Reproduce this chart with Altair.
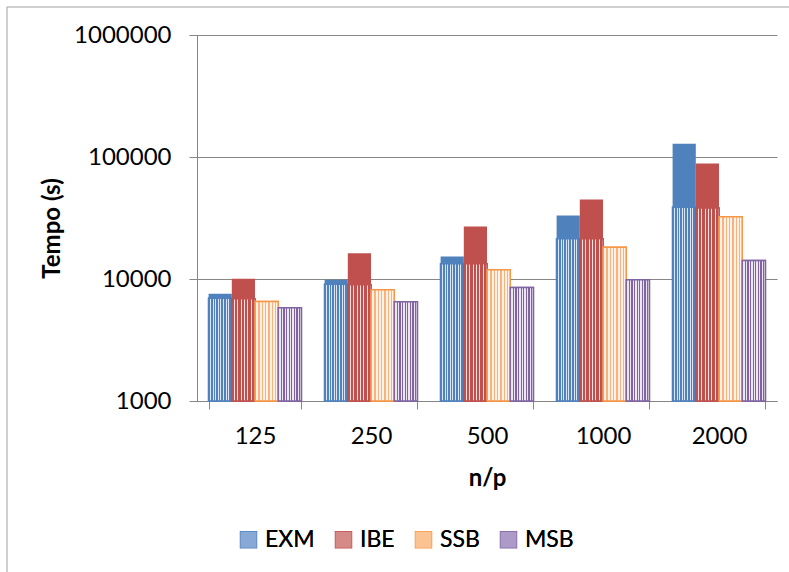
import altair as alt
import pandas as pd

# Problem sizes (n/p) and methods
np_labels = ["125", "250", "500", "1000", "2000"]
methods = ["EXM", "IBE", "SSB", "MSB"]
colors = ["#4F81BD", "#C0504D", "#F79646", "#8064A2"]
swatch_fills = ["#88A9D5", "#D58A88", "#FBC391", "#AD9AC7"]

# Total run time (s) per method
total_exm = [7560, 9850, 15290, 33150, 128200]
total_ibe = [10040, 16260, 26900, 44830, 88500]
total_ssb = [6540, 8160, 11890, 18230, 32440]
total_msb = [5810, 6500, 8510, 9850, 14170]

# Lower (patterned) part of each bar (s)
part_exm = [6960, 9060, 13320, 21360, 38650]
part_ibe = [6890, 8960, 13320, 21360, 38200]
part_ssb = total_ssb
part_msb = total_msb

totals = {"EXM": total_exm, "IBE": total_ibe, "SSB": total_ssb, "MSB": total_msb}
parts = {"EXM": part_exm, "IBE": part_ibe, "SSB": part_ssb, "MSB": part_msb}

rows = []
for m in methods:
    for i, n in enumerate(np_labels):
        rows.append({"np": n, "method": m, "total": totals[m][i],
                     "part": parts[m][i], "floor": 1000})
df = pd.DataFrame(rows)

FONT = "Lato"
GRAY = "#868686"

x_enc = alt.X("np:N", sort=np_labels,
              scale=alt.Scale(paddingInner=0.2, paddingOuter=0.1),
              axis=alt.Axis(title="n/p", labelAngle=0, tickBand="extent",
                            labelFont=FONT, labelFontSize=24, labelColor="#000",
                            labelPadding=15, tickSize=8, tickColor=GRAY,
                            domainColor=GRAY, grid=False,
                            titleFont=FONT, titleFontSize=24, titleFontWeight="bold",
                            titleColor="#000", titleBaseline="middle", titleY=77))
xo_enc = alt.XOffset("method:N", sort=methods,
                     scale=alt.Scale(domain=methods, paddingInner=0, paddingOuter=0))
y_scale = alt.Scale(type="log", domain=[1000, 1000000])
y_axis = alt.Axis(title="Tempo (s)", values=[1000, 10000, 100000, 1000000], format="d",
                  labelFont=FONT, labelFontSize=24, labelColor="#000", labelPadding=18,
                  tickSize=8, tickColor=GRAY, domainColor=GRAY, gridColor=GRAY,
                  titleFont=FONT, titleFontSize=24, titleFontWeight="bold", titleColor="#000",
                  titleAngle=270, titleBaseline="middle", titleAlign="center",
                  titleX=-145, titleY=193)


def stripes(c1, c2, periods, duty):
    stops = []
    for k in range(periods):
        a = k / periods
        b = (k + duty) / periods
        e = (k + 1) / periods
        stops += [alt.GradientStop(color=c1, offset=a), alt.GradientStop(color=c1, offset=b),
                  alt.GradientStop(color=c2, offset=b), alt.GradientStop(color=c2, offset=e)]
    return alt.LinearGradient(gradient="linear", stops=stops, x1=0, x2=1, y1=0, y2=0)


# Fine fill textures for the lower part of each bar
textures = {
    "EXM": stripes("#4F81BD", "#DCE6F3", 9, 0.6),
    "IBE": stripes("#C0504D", "#F6E0DF", 7, 0.65),
    "SSB": stripes("#FAB27D", "#FFF3E9", 7, 0.45),
    "MSB": stripes("#8064A2", "#ECE6F3", 9, 0.5),
}

legend_style = dict(title=None, orient="none", direction="horizontal",
                    legendX=40, legendY=493, symbolType="square",
                    symbolSize=256, symbolStrokeWidth=1.5,
                    labelFont=FONT, labelFontSize=23, labelColor="#000",
                    labelOffset=5, columnPadding=17)

base = alt.Chart(df)

# Full bars (solid colour shows above the patterned part)
solid = base.mark_bar().encode(
    x=x_enc, xOffset=xo_enc,
    y=alt.Y("total:Q", scale=y_scale, axis=y_axis), y2="floor:Q",
    fill=alt.Fill("method:N", sort=methods,
                  scale=alt.Scale(domain=methods, range=colors), legend=None),
)

# Patterned lower part: the base layer carries the legend
lower = base.mark_bar(strokeWidth=1.5).encode(
    x=x_enc, xOffset=xo_enc,
    y=alt.Y("part:Q", scale=y_scale, axis=y_axis), y2="floor:Q",
    fill=alt.Fill("method:N", sort=methods,
                  scale=alt.Scale(domain=methods, range=swatch_fills),
                  legend=alt.Legend(**legend_style)),
    stroke=alt.Stroke("method:N", sort=methods,
                      scale=alt.Scale(domain=methods, range=colors),
                      legend=alt.Legend(**legend_style)),
)

texture_layers = []
for m, c in zip(methods, colors):
    texture_layers.append(
        base.transform_filter(alt.datum.method == m)
        .mark_bar(fill=textures[m], stroke=c, strokeWidth=1.5)
        .encode(x=x_enc, xOffset=xo_enc,
                y=alt.Y("part:Q", scale=y_scale, axis=y_axis), y2="floor:Q")
    )

# Outer chart frame
frame_df = pd.DataFrame({"k": [0]})
frame_left = alt.Chart(frame_df).mark_rule(color="#A0A0A0", strokeWidth=1).encode(
    x=alt.value(-190), y=alt.value(-28), y2=alt.value(540))
frame_top = alt.Chart(frame_df).mark_rule(color="#A0A0A0", strokeWidth=1).encode(
    x=alt.value(-190), x2=alt.value(600), y=alt.value(-28))

chart = alt.layer(solid, lower, *texture_layers, frame_left, frame_top).resolve_scale(
    fill="independent"
).properties(
    width=580, height=366,
    autosize=alt.AutoSizeParams(type="none"),
    padding={"left": 197, "top": 35, "right": 12, "bottom": 171},
    background="white",
).configure_view(stroke=None)

chart.save("out.html", embed_options={"renderer": "svg", "actions": False})
